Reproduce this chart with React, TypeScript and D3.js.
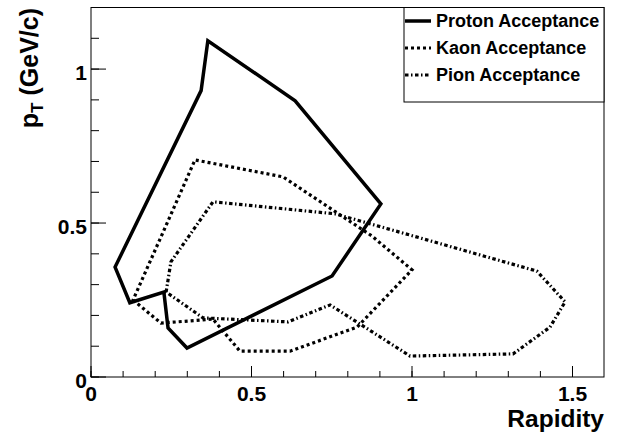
import * as d3 from "d3";

// acceptance polygons: [rapidity, pT]
const protonPts: [number, number][] = [
  [0.075, 0.357], [0.121, 0.241], [0.227, 0.276], [0.24, 0.159], [0.299, 0.094],
  [0.751, 0.328], [0.903, 0.562], [0.636, 0.897], [0.364, 1.092], [0.343, 0.93],
];
const kaonPts: [number, number][] = [
  [0.131, 0.25], [0.218, 0.175], [0.38, 0.188], [0.464, 0.084], [0.62, 0.084],
  [0.829, 0.162], [1.0, 0.348], [0.875, 0.458], [0.598, 0.65], [0.324, 0.705],
];
const pionPts: [number, number][] = [
  [0.234, 0.276], [0.249, 0.374], [0.38, 0.569], [0.76, 0.53], [1.389, 0.344],
  [1.477, 0.244], [1.43, 0.162], [1.315, 0.075], [0.994, 0.068], [0.745, 0.234],
  [0.614, 0.179], [0.349, 0.192],
];

const xMajor = [0, 0.5, 1, 1.5];
const xMajorLabels = ["0", "0.5", "1", "1.5"];
const yMajor = [0, 0.5, 1];
const yMajorLabels = ["0", "0.5", "1"];
const legendNames = ["Proton Acceptance", "Kaon Acceptance", "Pion Acceptance"];

const W = 618;
const H = 433;
const left = 91, right = 604, top = 7.5, bottom = 377;
const font = "Liberation Sans, Arial, Helvetica, sans-serif";

const styles = [
  { dash: "none", width: 3.5 },
  { dash: "3,3", width: 3.2 },
  { dash: "3.5,2.5,1.5,2.5", width: 3.2 },
];

export default function App() {
  const x = d3.scaleLinear().domain([0, 1.6]).range([left, left + 1.6 * 321]);
  const y = d3.scaleLinear().domain([0, 1.2]).range([bottom, top]);
  const line = d3
    .line<[number, number]>()
    .x((d) => x(d[0]))
    .y((d) => y(d[1]))
    .curve(d3.curveLinearClosed);

  const xMinor = d3.range(0, 1.6, 0.1).filter((v) => x(v) < right - 1);
  const yMinor = d3.range(0, 1.2, 0.1);
  const series = [protonPts, kaonPts, pionPts];

  const lx = 404, lr = 604, lt = 7.5, lb = 102;
  const rowY = [21, 48, 75];

  return (
    <svg width={W} height={H} style={{ position: "absolute", left: 0, top: 0 }}>
      <rect x={0} y={0} width={W} height={H} fill="#fff" />
      {series.map((s, i) => (
        <path
          key={i}
          d={line(s) ?? ""}
          fill="none"
          stroke="#000"
          strokeWidth={styles[i].width}
          strokeDasharray={styles[i].dash}
          strokeLinejoin="miter"
        />
      ))}
      <rect x={left} y={top} width={right - left} height={bottom - top} fill="none" stroke="#000" strokeWidth={1} />
      {xMinor.map((v, i) => (
        <line key={"xm" + i} x1={x(v)} x2={x(v)} y1={bottom} y2={bottom - 6} stroke="#000" />
      ))}
      {xMajor.map((v, i) => (
        <g key={"xM" + i}>
          <line x1={x(v)} x2={x(v)} y1={bottom} y2={bottom - 11} stroke="#000" />
          <text
            x={x(v)}
            y={401}
            textAnchor="middle"
            fontFamily={font}
            fontWeight="bold"
            fontSize={21}
          >
            {xMajorLabels[i]}
          </text>
        </g>
      ))}
      {yMinor.map((v, i) => (
        <line key={"ym" + i} x1={left} x2={left + 8} y1={y(v)} y2={y(v)} stroke="#000" />
      ))}
      {yMajor.map((v, i) => (
        <g key={"yM" + i}>
          <line x1={left} x2={left + 15} y1={y(v)} y2={y(v)} stroke="#000" />
          <text
            x={87}
            y={y(v) + 10.5}
            textAnchor="end"
            fontFamily={font}
            fontWeight="bold"
            fontSize={21}
          >
            {yMajorLabels[i]}
          </text>
        </g>
      ))}
      <text x={604} y={427} textAnchor="end" fontFamily={font} fontWeight="bold" fontSize={24.5}>
        Rapidity
      </text>
      <text
        transform="translate(38,8) rotate(-90)"
        textAnchor="end"
        fontFamily={font}
        fontWeight="bold"
        fontSize={25}
      >
        p<tspan fontSize={17} dy={5}>T</tspan>
        <tspan dy={-5}> (GeV/c)</tspan>
      </text>
      <rect x={lx} y={lt} width={lr - lx} height={lb - lt} fill="#fff" stroke="#000" strokeWidth={1} />
      {legendNames.map((n, i) => {
        const cy = rowY[i];
        return (
          <g key={"lg" + i}>
            <line
              x1={lx + 1}
              x2={431}
              y1={cy}
              y2={cy}
              stroke="#000"
              strokeWidth={styles[i].width}
              strokeDasharray={styles[i].dash}
            />
            <text x={436} y={cy + 6} fontFamily={font} fontWeight="bold" fontSize={18}>
              {n}
            </text>
          </g>
        );
      })}
    </svg>
  );
}
